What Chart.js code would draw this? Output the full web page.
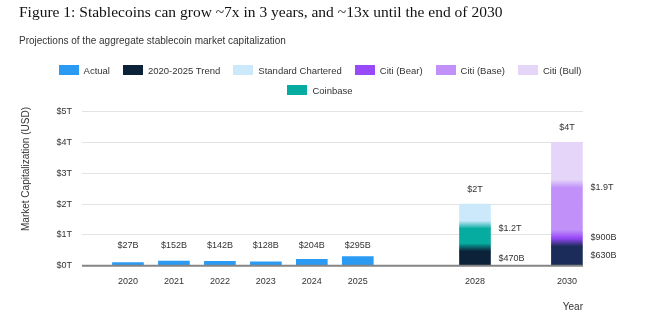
<!DOCTYPE html>
<html>
<head>
<meta charset="utf-8">
<title>Stablecoin market cap projections</title>
<script src="https://cdn.jsdelivr.net/npm/chart.js@4.4.1/dist/chart.umd.min.js"></script>
<style>
    body { margin: 0; background: #fff; }
    #wrap { position: relative; width: 657px; height: 323px; overflow: hidden; font-family: 'Liberation Sans', Arial, sans-serif; color: #333; }
    #chart { position: absolute; left: 0; top: 0; }
    #title { position: absolute; left: 19px; top: 4.4px; font: 15.5px/15.5px 'Liberation Serif', 'Times New Roman', serif; color: #111; white-space: nowrap; }
    #subtitle { position: absolute; left: 19px; top: 36px; font-size: 10px; line-height: 10px; color: #333; white-space: nowrap; }
    #legend { position: absolute; left: 50px; top: 60px; width: 540px; display: flex; flex-wrap: wrap; justify-content: center; column-gap: 13px; font-size: 9.5px; color: #333; }
    .item { display: flex; align-items: center; height: 20px; }
    .swatch { width: 20px; height: 10px; margin-right: 5px; }
    #ytitle { position: absolute; left: -74.5px; top: 163px; width: 200px; text-align: center; font-size: 10px; line-height: 12px; transform: rotate(-90deg); color: #333; }
</style>
</head>
<body>
<div id="wrap">
    <canvas id="chart" width="657" height="323"></canvas>
    <div id="title">Figure 1: Stablecoins can grow ~7x in 3 years, and ~13x until the end of 2030</div>
    <div id="subtitle">Projections of the aggregate stablecoin market capitalization</div>
    <div id="legend"></div>
    <div id="ytitle">Market Capitalization (USD)</div>
</div>
<script>
// values in trillions of USD
const actualYears = [2020, 2021, 2022, 2023, 2024, 2025];
const actualValues = [0.027, 0.152, 0.142, 0.128, 0.204, 0.295];
const actualLabels = ['$27B', '$152B', '$142B', '$128B', '$204B', '$295B'];

const projectionYears = ['2028', '2030'];
const projectionX = [2027.55, 2029.55]; // where the projection bars sit on the year axis
const projectionTotals = ['$2T', '$4T'];

// stacked segments, bottom to top
const trendValues = [0.47, 0.63];
const coinbaseValues = [0.73, null];
const standardCharteredValues = [0.80, null];
const citiBearValues = [null, 0.27];
const citiBaseValues = [null, 1.63];
const citiBullValues = [null, 1.47];

const trendLabels = ['$470B', '$630B'];
const coinbaseLabels = ['$1.2T', null];
const citiBearLabels = [null, '$900B'];
const citiBaseLabels = [null, '$1.9T'];

const yTicks = [0, 1, 2, 3, 4, 5];

const COLORS = {
    actual: '#2b9af2',
    trend: '#0b2239',
    trend2030: '#1b2c5a',
    standardChartered: '#cce9fc',
    citiBear: '#9849f8',
    citiBase: '#c191f9',
    citiBull: '#e4d5f9',
    coinbase: '#06aca0'
};

const legendOrder = ['Actual', '2020-2025 Trend', 'Standard Chartered', 'Citi (Bear)', 'Citi (Base)', 'Citi (Bull)', 'Coinbase'];

function projectionData(values) {
    return values
        .map((v, i) => (v === null ? null : { x: projectionX[i], y: v }))
        .filter(p => p !== null);
}

// colour of a dataset at a given x (the trend segment is bluer in 2030)
function colorAt(ds, x) {
    if (ds.perIndexColor) {
        const i = projectionX.indexOf(x);
        return ds.perIndexColor[i];
    }
    return ds.baseColor;
}

// fill a stacked segment solid, fading into the segment below over its last few pixels
function segmentFill(ctx) {
    const chart = ctx.chart;
    const ds = chart.data.datasets[ctx.datasetIndex];
    const point = ds.data[ctx.dataIndex];
    const own = point ? colorAt(ds, point.x) : ds.baseColor;
    const y = chart.scales.y;
    if (!y || !point || ctx.type !== 'data') return own;

    let base = 0;
    let lower = null;
    for (let k = 0; k < ctx.datasetIndex; k++) {
        const other = chart.data.datasets[k];
        const p = other.data.find(d => d.x === point.x);
        if (p && p.y) {
            base += p.y;
            lower = colorAt(other, point.x);
        }
    }
    if (!lower) return own;

    const yTop = y.getPixelForValue(base + point.y);
    const yBot = y.getPixelForValue(base);
    const h = yBot - yTop;
    if (!isFinite(h) || h <= 0) return own;
    const g = chart.ctx.createLinearGradient(0, yTop, 0, yBot);
    g.addColorStop(0, own);
    g.addColorStop(Math.max(0, 1 - 8 / h), own);
    g.addColorStop(1, lower);
    return g;
}

const datasets = [
    { label: 'Actual', data: actualYears.map((yr, i) => ({ x: yr, y: actualValues[i] })), baseColor: COLORS.actual, labels: null },
    { label: '2020-2025 Trend', data: projectionData(trendValues), baseColor: COLORS.trend, perIndexColor: [COLORS.trend, COLORS.trend2030], labels: trendLabels, labelAt: 'middle' },
    { label: 'Coinbase', data: projectionData(coinbaseValues), baseColor: COLORS.coinbase, labels: coinbaseLabels, labelAt: 'top' },
    { label: 'Standard Chartered', data: projectionData(standardCharteredValues), baseColor: COLORS.standardChartered, labels: null },
    { label: 'Citi (Bear)', data: projectionData(citiBearValues), baseColor: COLORS.citiBear, labels: citiBearLabels, labelAt: 'top' },
    { label: 'Citi (Base)', data: projectionData(citiBaseValues), baseColor: COLORS.citiBase, labels: citiBaseLabels, labelAt: 'top' },
    { label: 'Citi (Bull)', data: projectionData(citiBullValues), baseColor: COLORS.citiBull, labels: null }
].map(ds => Object.assign(ds, {
    backgroundColor: segmentFill,
    borderWidth: 0,
    barThickness: 31,
    minBarLength: 3
}));

const TEXT_FONT = '9px "Liberation Sans", Arial, sans-serif';

// zero line drawn above the bars, plus the value labels
const annotationsPlugin = {
    id: 'annotations',
    afterDatasetsDraw(chart) {
        const { ctx, chartArea } = chart;
        const x = chart.scales.x;
        const y = chart.scales.y;
        const zero = y.getPixelForValue(0);

        ctx.save();
        ctx.strokeStyle = '#858585';
        ctx.lineWidth = 2;
        ctx.beginPath();
        ctx.moveTo(chartArea.left, zero);
        ctx.lineTo(chartArea.right, zero);
        ctx.stroke();

        ctx.fillStyle = '#333';
        ctx.font = TEXT_FONT;
        ctx.textBaseline = 'middle';

        // actual values, all on one line above the tallest actual bar
        ctx.textAlign = 'center';
        const actualLine = y.getPixelForValue(Math.max(...actualValues)) - 11;
        actualYears.forEach((yr, i) => {
            ctx.fillText(actualLabels[i], x.getPixelForValue(yr), actualLine);
        });

        // totals above the projection bars
        projectionX.forEach((px, i) => {
            let total = 0;
            chart.data.datasets.forEach(ds => {
                const p = ds.data.find(d => d.x === px);
                if (p) total += p.y;
            });
            ctx.fillText(projectionTotals[i], x.getPixelForValue(px), y.getPixelForValue(total) - 15);
        });

        // side labels, right of the bars
        ctx.textAlign = 'left';
        projectionX.forEach((px, i) => {
            let base = 0;
            chart.data.datasets.forEach(ds => {
                const p = ds.data.find(d => d.x === px);
                if (!p) return;
                const text = ds.labels ? ds.labels[i] : null;
                if (text) {
                    const v = ds.labelAt === 'middle' ? base + p.y / 2 : base + p.y;
                    ctx.fillText(text, x.getPixelForValue(px) + 15.5 + 8, y.getPixelForValue(v));
                }
                base += p.y;
            });
        });
        ctx.restore();
    }
};

const xTickValues = actualYears.concat(projectionX);
const xTickLabels = actualYears.map(String).concat(projectionYears);

const chart = new Chart(document.getElementById('chart'), {
    type: 'bar',
    data: { datasets: datasets },
    options: {
        responsive: false,
        animation: false,
        layout: { padding: { top: 111.5, right: 74, bottom: 10, left: 0 } },
        plugins: {
            legend: { display: false },
            tooltip: { enabled: false }
        },
        scales: {
            x: {
                type: 'linear',
                stacked: true,
                offset: false,
                min: 2019,
                max: 2029.9,
                grid: { display: false, drawTicks: false },
                border: { display: false },
                afterBuildTicks: scale => {
                    scale.ticks = xTickValues.map(v => ({ value: v }));
                },
                ticks: {
                    autoSkip: false,
                    maxRotation: 0,
                    padding: 10,
                    color: '#333',
                    font: { family: '"Liberation Sans", Arial, sans-serif', size: 9 },
                    callback: value => xTickLabels[xTickValues.indexOf(value)]
                },
                title: {
                    display: true,
                    text: 'Year',
                    align: 'end',
                    color: '#333',
                    padding: { top: 4.5, bottom: 0 },
                    font: { family: '"Liberation Sans", Arial, sans-serif', size: 10 }
                }
            },
            y: {
                stacked: true,
                min: 0,
                max: 5,
                afterBuildTicks: scale => {
                    scale.ticks = yTicks.map(v => ({ value: v }));
                },
                afterFit: scale => { scale.width = 82; },
                grid: {
                    drawTicks: false,
                    color: c => (c.tick && c.tick.value === 0 ? 'rgba(0,0,0,0)' : '#e3e3e3'),
                    lineWidth: 1
                },
                border: { display: false },
                ticks: {
                    padding: 10,
                    color: '#333',
                    font: { family: '"Liberation Sans", Arial, sans-serif', size: 9 },
                    callback: value => '$' + value + 'T'
                }
            }
        }
    },
    plugins: [annotationsPlugin]
});

// html legend, in the order of the original figure
const legendColors = {
    'Actual': COLORS.actual,
    '2020-2025 Trend': COLORS.trend,
    'Standard Chartered': COLORS.standardChartered,
    'Citi (Bear)': COLORS.citiBear,
    'Citi (Base)': COLORS.citiBase,
    'Citi (Bull)': COLORS.citiBull,
    'Coinbase': COLORS.coinbase
};
document.getElementById('legend').innerHTML = legendOrder.map(name => `
    <div class="item"><span class="swatch" style="background:${legendColors[name]}"></span>${name}</div>
`).join('');
</script>
</body>
</html>
